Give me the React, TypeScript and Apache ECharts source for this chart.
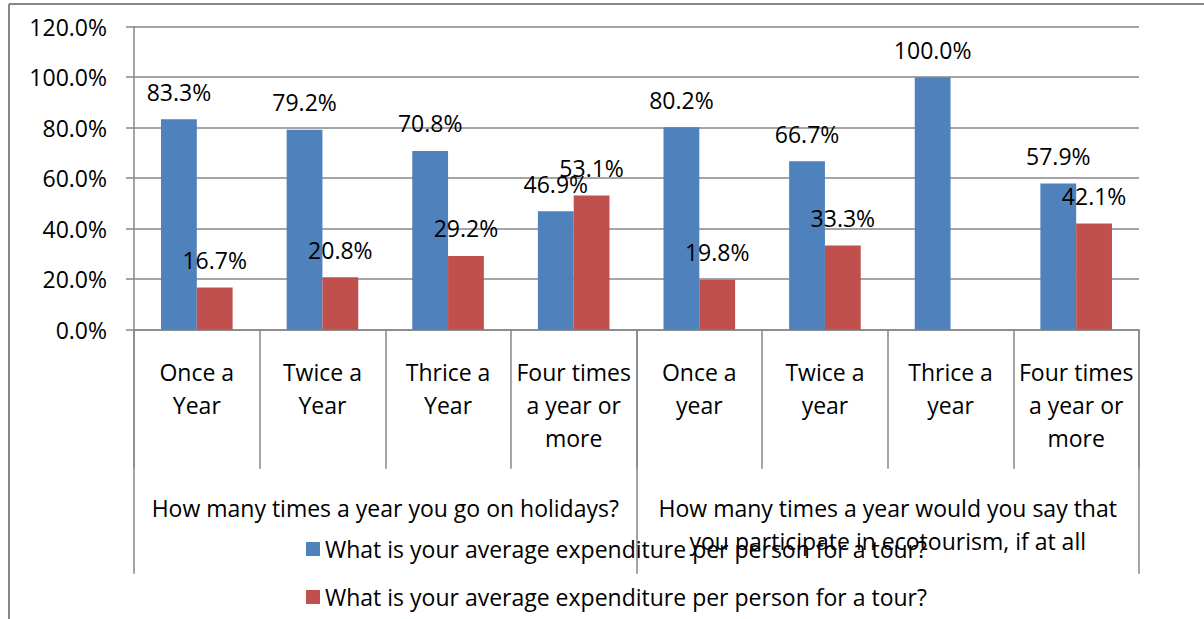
import React, { useEffect, useRef } from "react";
import * as echarts from "echarts";

const categories = [
  "Once a\nYear",
  "Twice a\nYear",
  "Thrice a\nYear",
  "Four times\na year or\nmore",
  "Once a\nyear",
  "Twice a\nyear",
  "Thrice a\nyear",
  "Four times\na year or\nmore",
];
const groups = [
  "How many times a year you go on holidays?",
  "How many times a year would you say that\nyou participate in ecotourism, if at all",
];
const seriesBlue = [83.3, 79.2, 70.8, 46.9, 80.2, 66.7, 100.0, 57.9];
const seriesRed: (number | null)[] = [16.7, 20.8, 29.2, 53.1, 19.8, 33.3, null, 42.1];
const legendLabels = [
  "What is your average expenditure per person for a tour?",
  "What is your average expenditure per person for a tour?",
];
const yTicks = { min: 0, max: 120, interval: 20 };

const FONT = "Open Sans";
const FS = 23;
const GRAY = "#878787";

export default function App() {
  const ref = useRef<HTMLDivElement>(null);
  useEffect(() => {
    if (!ref.current) return;
    const chart = echarts.init(ref.current, null, { renderer: "svg" });
    const fmt = (v: number) => v.toFixed(1) + "%";
    const barLabel = {
      show: true,
      position: "top",
      distance: 16,
      fontFamily: FONT,
      fontSize: FS,
      color: "#000",
      formatter: (p: any) => fmt(p.value),
    };
    chart.setOption({
      animation: false,
      textStyle: { fontFamily: FONT, color: "#000" },
      grid: { left: 134, right: 65, top: 26.7, bottom: 289.3, containLabel: false },
      legend: {
        orient: "vertical",
        left: 306,
        top: 537,
        padding: 0,
        itemWidth: 14,
        itemHeight: 14,
        itemGap: 24,
        icon: "rect",
        data: ["s1", "s2"],
        formatter: (name: string) => (name === "s1" ? legendLabels[0] : legendLabels[1]),
        textStyle: { fontFamily: FONT, fontSize: FS, color: "#000", lineHeight: 24 },
      },
      xAxis: [
        {
          type: "category",
          position: "bottom",
          data: categories,
          axisLine: { show: true, lineStyle: { color: GRAY, width: 1.5 } },
          axisTick: { show: true, length: 139, interval: 0, alignWithLabel: false, lineStyle: { color: GRAY, width: 1.5 } },
          axisLabel: {
            interval: 0,
            margin: 26,
            fontFamily: FONT,
            fontSize: FS,
            lineHeight: 33,
            color: "#000",
          },
        },
        {
          type: "category",
          position: "bottom",
          data: groups,
          axisLine: { show: false },
          axisTick: { show: true, length: 244, interval: 0, alignWithLabel: false, lineStyle: { color: GRAY, width: 1.5 } },
          axisLabel: {
            interval: 0,
            margin: 162,
            fontFamily: FONT,
            fontSize: FS,
            lineHeight: 33,
            color: "#000",
          },
        },
      ],
      yAxis: {
        type: "value",
        min: yTicks.min,
        max: yTicks.max,
        interval: yTicks.interval,
        axisLine: { show: true, lineStyle: { color: GRAY, width: 1.5 } },
        axisTick: { show: true, length: 8, lineStyle: { color: GRAY, width: 1.5 } },
        splitLine: { show: true, lineStyle: { color: GRAY, width: 1.5 } },
        axisLabel: {
          margin: 27,
          fontFamily: FONT,
          fontSize: FS,
          color: "#000",
          formatter: (v: number) => fmt(v),
        },
      },
      series: [
        {
          name: "s1",
          type: "bar",
          xAxisIndex: 0,
          data: seriesBlue,
          barGap: "0%",
          barCategoryGap: "43%",
          itemStyle: { color: "#4F81BD" },
          label: barLabel,
        },
        {
          name: "s2",
          type: "bar",
          xAxisIndex: 0,
          data: seriesRed,
          barGap: "0%",
          barCategoryGap: "43%",
          itemStyle: { color: "#C0504D" },
          label: barLabel,
        },
      ],
      graphic: [
        { type: "line", shape: { x1: 9, y1: 4, x2: 1204, y2: 4 }, style: { stroke: GRAY, lineWidth: 2 } },
        { type: "line", shape: { x1: 9, y1: 4, x2: 9, y2: 619 }, style: { stroke: GRAY, lineWidth: 2 } },
      ],
    });
    return () => chart.dispose();
  }, []);
  return (
    <div
      ref={ref}
      style={{ position: "fixed", left: 0, top: 0, width: 1204, height: 619, background: "#fff" }}
    />
  );
}
